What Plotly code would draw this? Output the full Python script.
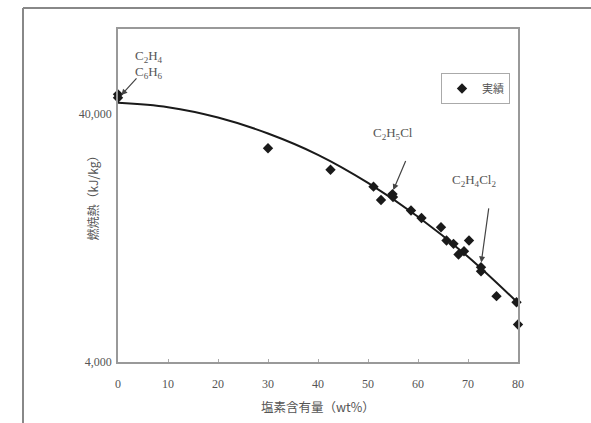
import math
import plotly.graph_objects as go

# Measured data (chlorine content wt%, heat of combustion kJ/kg)
cl_content = [0, 0, 30.0, 42.5, 51.1, 52.6, 54.9, 55.0, 58.6, 60.7, 64.6, 65.7,
              67.1, 70.2, 69.2, 68.1, 72.6, 72.6, 75.7, 79.7, 80.0]
heat_value = [48000, 46500, 29100, 23850, 20370, 17990, 19010, 18490, 16330, 15220,
              13980, 12360, 11980, 12360, 11190, 10850, 9650, 9290, 7370, 6970, 5665]

# Trend curve
curve_x = [0, 10, 20, 30, 40, 50, 60, 70, 80]
curve_y = [44360, 42600, 38710, 33370, 27380, 21100, 15400, 10630, 6920]

x_ticks = [0, 10, 20, 30, 40, 50, 60, 70, 80]
y_ticks = [4000, 40000]
y_tick_text = ["4,000", "40,000"]

legend_name = "実績"
x_title = "塩素含有量（wt%）"
y_title = "燃焼熱（kJ/kg）"

# labelled compounds: (chlorine wt%, heat kJ/kg) the arrows point to
arrow_x = [0.4, 54.9, 72.6]
arrow_y = [47000, 19400, 9900]

serif = "Liberation Serif"
jp = "Noto Sans CJK JP"
txt_col = "#555555"

fig = go.Figure()
fig.add_trace(go.Scatter(x=curve_x, y=curve_y, mode="lines", line=dict(color="#1a1a1a", width=2, shape="spline"),
                         showlegend=False, hoverinfo="skip"))
fig.add_trace(go.Scatter(x=cl_content, y=heat_value, mode="markers", name=legend_name,
                         marker=dict(symbol="diamond", size=8, color="#1a1a1a"), cliponaxis=False))

# plot area in page px: x 118-518, y 29-362
fig.update_layout(
    width=591, height=423,
    margin=dict(l=118, r=73, t=29, b=61),
    paper_bgcolor="white", plot_bgcolor="white",
    showlegend=True,
    legend=dict(x=0.8075, y=0.868, xanchor="left", yanchor="top", bgcolor="white",
                bordercolor="#aaaaaa", borderwidth=1, font=dict(family=jp, size=11, color=txt_col),
                itemwidth=30, tracegroupgap=0),
    font=dict(family=serif, size=12, color=txt_col),
)
fig.update_xaxes(range=[0, 80], tickvals=x_ticks, ticks="inside", ticklen=3, tickcolor="#aaaaaa",
                 showline=True, linecolor="#999999", linewidth=1.5, mirror=True, showgrid=False, zeroline=False,
                 tickfont=dict(family=serif, size=12, color=txt_col), ticklabelstandoff=10)
fig.update_yaxes(type="log", range=[3.60206, 4.9447], tickvals=y_ticks, ticktext=y_tick_text, ticks="",
                 showline=True, linecolor="#999999", linewidth=1.5, mirror=True, showgrid=False, zeroline=False,
                 tickfont=dict(family=serif, size=12, color=txt_col), ticklabelstandoff=2)

# axis titles (page px: x title center (318, 407); y title center (92, 196))
fig.add_annotation(text=x_title, xref="paper", yref="paper", x=0.5, y=-0.135, showarrow=False,
                   font=dict(family=jp, size=12.5, color=txt_col), xanchor="center", yanchor="middle")
fig.add_annotation(text=y_title, xref="paper", yref="paper", x=-0.065, y=0.5, showarrow=False, textangle=-90,
                   font=dict(family=jp, size=12, color=txt_col), xanchor="center", yanchor="middle")

# outer frame
fig.add_shape(type="line", xref="paper", yref="paper", x0=-0.2375, x1=-0.2375, y0=1.063, y1=-0.25,
              line=dict(color="#888888", width=2))
fig.add_shape(type="line", xref="paper", yref="paper", x0=-0.2375, x1=1.25, y0=1.063, y1=1.063,
              line=dict(color="#888888", width=2))

lab_font = dict(family=serif, size=13, color=txt_col)
labels = [
    ("C<sub>2</sub>H<sub>4</sub>", 0.078, 0.918),
    ("C<sub>6</sub>H<sub>6</sub>", 0.078, 0.87),
    ("C<sub>2</sub>H<sub>5</sub>Cl", 0.6875, 0.687),
    ("C<sub>2</sub>H<sub>4</sub>Cl<sub>2</sub>", 0.889, 0.546),
]
for t, xp, yp in labels:
    fig.add_annotation(text=t, xref="paper", yref="paper", x=xp, y=yp, showarrow=False,
                       font=lab_font, xanchor="center", yanchor="middle")

offsets = [(18, -20), (14, -33), (8, -58)]
for xa, ya, (ax, ay) in zip(arrow_x, arrow_y, offsets):
    fig.add_annotation(x=xa, y=math.log10(ya), xref="x", yref="y", text=" ", showarrow=True, ax=ax, ay=ay,
                       arrowhead=2, arrowsize=1, arrowwidth=1.2, arrowcolor="#444444", standoff=2,
                       font=dict(size=1))

fig.write_html("out.html", config={"displayModeBar": False},
               post_script="document.body.style.margin='0';")
